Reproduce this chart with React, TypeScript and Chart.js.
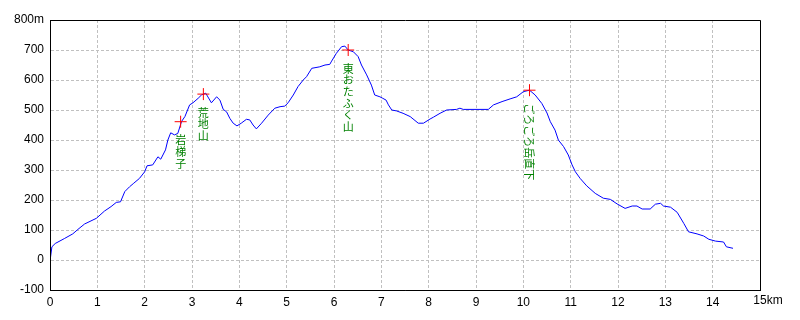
import React, { useEffect, useRef } from "react";
import { Chart, registerables } from "chart.js";

Chart.register(...registerables);

const distKm = [
  0.0, 0.01, 0.04, 0.11, 0.31, 0.48, 0.59, 0.73, 0.98, 1.15, 1.29, 1.40, 1.49, 1.58, 1.68, 1.77, 1.89,
  2.0, 2.05, 2.17, 2.28, 2.34, 2.44, 2.49, 2.55, 2.63, 2.70, 2.78, 2.85, 2.95, 3.02, 3.13, 3.20, 3.29,
  3.41, 3.52, 3.59, 3.66, 3.73, 3.80, 3.87, 3.95, 4.04, 4.15, 4.22, 4.29, 4.36, 4.47, 4.61, 4.75, 4.86,
  4.96, 5.03, 5.14, 5.24, 5.35, 5.42, 5.53, 5.70, 5.81, 5.91, 5.95, 6.05, 6.16, 6.23, 6.30, 6.41, 6.51,
  6.58, 6.69, 6.79, 6.86, 6.97, 7.03, 7.10, 7.15, 7.22, 7.32, 7.46, 7.61, 7.78, 7.89, 8.03, 8.10, 8.24,
  8.38, 8.59, 8.66, 8.73, 9.26, 9.37, 9.55, 9.72, 9.86, 10.0, 10.13, 10.25, 10.39, 10.50, 10.57, 10.67,
  10.74, 10.85, 10.95, 11.03, 11.10, 11.20, 11.34, 11.52, 11.69, 11.84, 11.98, 12.15, 12.30, 12.40,
  12.51, 12.68, 12.79, 12.90, 12.96, 13.11, 13.25, 13.39, 13.49, 13.67, 13.81, 13.92, 14.06, 14.23,
  14.29, 14.43,
];

const elevM = [
  -30, 8, 44, 55, 72, 87, 102, 120, 139, 163, 178, 192, 194, 228, 244, 256, 272,
  294, 314, 317, 344, 336, 367, 400, 424, 417, 422, 462, 478, 517, 524, 539, 550, 556,
  524, 544, 533, 502, 494, 472, 456, 447, 456, 469, 467, 450, 437, 456, 483, 506, 511,
  513, 524, 550, 578, 600, 611, 639, 644, 650, 652, 663, 689, 711, 713, 700, 694, 678,
  650, 617, 583, 550, 544, 539, 533, 517, 500, 497, 489, 478, 456, 456, 470, 476, 489,
  500, 502, 506, 502, 502, 517, 528, 537, 544, 561, 566, 550, 522, 490, 461, 433,
  400, 378, 350, 317, 294, 272, 247, 222, 206, 202, 187, 172, 180, 180,
  170, 170, 186, 189, 180, 176, 159, 122, 94, 87, 80, 69, 63, 60,
  44, 39,
];

const peakKm = [2.76, 3.24, 6.3, 10.13];
const peakElev = [461, 553, 700, 566];
const peakNames = ["岩梯子", "荒地山", "東おたふく山", "ごろごろ岳直下"];
const peakRotated = [false, false, false, true];

const xTicksMin = 0;
const xTicksMax = 15;
const yTicksMin = -100;
const yTicksMax = 800;

const TICK_FONT = "12px 'Liberation Sans', Arial, sans-serif";
const LABEL_FONT = "11px 'Noto Sans CJK JP', sans-serif";

const framePlugin = {
  id: "frame",
  afterDraw(chart: any) {
    const { ctx, chartArea } = chart;
    ctx.save();
    ctx.strokeStyle = "#000000";
    ctx.lineWidth = 1;
    ctx.setLineDash([]);
    const l = Math.round(chartArea.left) + 0.5;
    const t = Math.round(chartArea.top) + 0.5;
    const r = Math.round(chartArea.right) + 0.5;
    const b = Math.round(chartArea.bottom) + 0.5;
    ctx.beginPath();
    ctx.moveTo(l, t);
    ctx.lineTo(r, t);
    ctx.lineTo(r, b);
    ctx.lineTo(l, b);
    ctx.closePath();
    ctx.stroke();
    // "15km" label
    const xs = chart.scales.x;
    const px = xs.getPixelForValue(15);
    ctx.font = TICK_FONT;
    ctx.fillStyle = "#000000";
    ctx.textBaseline = "middle";
    ctx.textAlign = "left";
    const w = ctx.measureText("15").width;
    ctx.fillText("15km", px - w / 2, 301);
    ctx.restore();
  },
};

const namesPlugin = {
  id: "names",
  afterDatasetsDraw(chart: any) {
    const { ctx } = chart;
    const meta = chart.getDatasetMeta(0);
    ctx.save();
    ctx.fillStyle = "#008000";
    ctx.font = LABEL_FONT;
    meta.data.forEach((pt: any, i: number) => {
      const name = peakNames[i];
      const x = pt.x;
      const y = pt.y + 13;
      if (peakRotated[i]) {
        ctx.save();
        ctx.translate(x, y);
        ctx.rotate(Math.PI / 2);
        ctx.textAlign = "left";
        ctx.textBaseline = "middle";
        ctx.fillText(name, 0, 0);
        ctx.restore();
      } else {
        ctx.textAlign = "center";
        ctx.textBaseline = "top";
        Array.from(name).forEach((ch, k) => {
          ctx.fillText(ch, x, y + k * 11.7);
        });
      }
    });
    ctx.restore();
  },
};

export default function App() {
  const ref = useRef<HTMLCanvasElement | null>(null);
  useEffect(() => {
    if (!ref.current) return;
    const chart = new Chart(ref.current, {
      type: "line",
      data: {
        datasets: [
          {
            type: "scatter",
            data: peakKm.map((x, i) => ({ x, y: peakElev[i] })),
            pointStyle: "cross",
            pointRadius: 6,
            pointBorderColor: "#ff0000",
            pointBorderWidth: 1,
            borderColor: "#ff0000",
            showLine: false,
            order: 0,
          } as any,
          {
            type: "line",
            data: distKm.map((x, i) => ({ x, y: elevM[i] })),
            borderColor: "#0000ff",
            borderWidth: 1,
            pointRadius: 0,
            tension: 0,
            fill: false,
            order: 1,
          } as any,
        ],
      },
      options: {
        responsive: false,
        animation: false,
        devicePixelRatio: 1,
        layout: { padding: { top: 20, right: 40, left: 0, bottom: 0 } },
        plugins: {
          legend: { display: false },
          tooltip: { enabled: false },
        },
        scales: {
          x: {
            type: "linear",
            min: xTicksMin,
            max: xTicksMax,
            ticks: {
              stepSize: 1,
              color: "#000000",
              font: { family: "'Liberation Sans', Arial, sans-serif", size: 12 },
              padding: 5,
              maxRotation: 0,
              callback: (v: any) => (v === 15 ? "" : String(v)),
            },
            grid: {
              color: "#c0c0c0",
              lineWidth: 1,
              drawTicks: false,
            },
            border: { display: true, color: "#000000", dash: [3, 2] } as any,
            afterFit: (s: any) => {
              s.height = 30;
            },
          },
          y: {
            type: "linear",
            min: yTicksMin,
            max: yTicksMax,
            ticks: {
              stepSize: 100,
              color: "#000000",
              font: { family: "'Liberation Sans', Arial, sans-serif", size: 12 },
              padding: 6,
              callback: (v: any) => (v === 800 ? "800m" : String(v)),
            },
            grid: {
              color: "#c0c0c0",
              lineWidth: 1,
              drawTicks: false,
            },
            border: { display: true, color: "#000000", dash: [3, 2] } as any,
            afterFit: (s: any) => {
              s.width = 50;
            },
          },
        },
      },
      plugins: [namesPlugin, framePlugin],
    });
    return () => chart.destroy();
  }, []);
  return (
    <div style={{ position: "fixed", left: 0, top: 0, width: 800, height: 320, background: "#ffffff" }}>
      <canvas ref={ref} width={800} height={320} style={{ width: 800, height: 320 }} />
    </div>
  );
}
